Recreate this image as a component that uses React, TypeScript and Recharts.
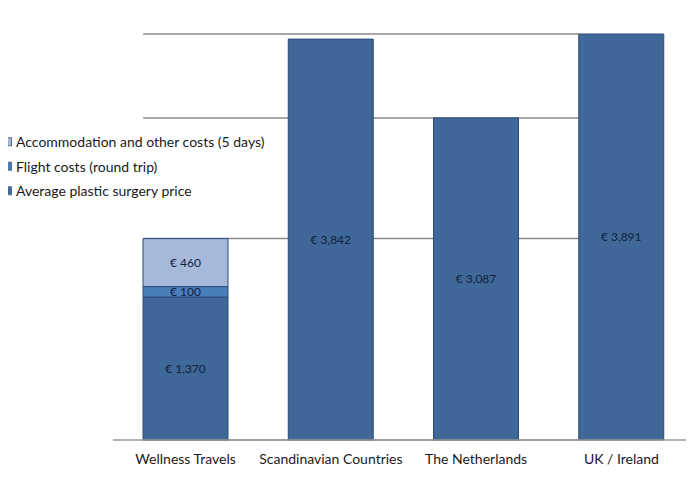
import React from 'react';
import { BarChart, Bar, XAxis, YAxis, CartesianGrid, LabelList } from 'recharts';

const categories = ['Wellness Travels', 'Scandinavian Countries', 'The Netherlands', 'UK / Ireland'];
const surgeryPrice = [1370, 3842, 3087, 3891];
const flightCosts: (number | null)[] = [100, null, null, null];
const accommodationCosts: (number | null)[] = [460, null, null, null];
const gridTicks = [1930, 3087, 3891];
const yMax = 3891;

const series = [
  { key: 'surgery', name: 'Average plastic surgery price', color: '#3f6898' },
  { key: 'flight', name: 'Flight costs (round trip)', color: '#4a7ebb' },
  { key: 'accommodation', name: 'Accommodation and other costs (5 days)', color: '#a7b9da' },
];

const data = categories.map((c, i) => ({
  name: c,
  surgery: surgeryPrice[i],
  flight: flightCosts[i],
  accommodation: accommodationCosts[i],
}));

const FONT = 'Lato, "Open Sans", sans-serif';
const BAR_SIZE = 85;
const N = categories.length;
const ROW = 24.5;

const fmt = (v: any) => (v == null || v === 0 ? '' : '€ ' + Number(v).toLocaleString('en-US'));

const gridLine = (p: any) => {
  const band = (p.x2 - p.x1) / N;
  const gap = (band - BAR_SIZE) / 2;
  return (
    <line
      key={`g-${p.index}`}
      x1={p.x1 + gap}
      x2={p.x2 - band + gap}
      y1={p.y1}
      y2={p.y2}
      stroke="#8a8a8a"
      strokeWidth={1.5}
    />
  );
};

const LegendBox = () => {
  const items = [...series].reverse();
  return (
    <svg
      width={300}
      height={ROW * items.length}
      style={{ position: 'absolute', left: -6, top: 122, overflow: 'visible' }}
    >
      {items.map((it, i) => (
        <g key={it.key} transform={`translate(0, ${i * ROW + ROW / 2})`}>
          <rect x={1.5} y={-4.5} width={8} height={8} fill={it.color} stroke="#5a6f8f" strokeWidth={1} />
          <text x={14} y={0} dy="0.35em" fontFamily={FONT} fontSize={14} fill="#1a1a1a">
            {it.name}
          </text>
        </g>
      ))}
    </svg>
  );
};

export default function App() {
  return (
    <div style={{ position: 'relative', width: 686, height: 471 }}>
      <BarChart
        width={686}
        height={471}
        data={data}
        margin={{ top: 26, right: 0, bottom: 9, left: 105 }}
        style={{ fontFamily: FONT }}
      >
        <CartesianGrid vertical={false} horizontal={gridLine} />
        <XAxis
          dataKey="name"
          axisLine={{ stroke: '#9a9a9a', strokeWidth: 1.5 }}
          tickLine={false}
          tick={{ fill: '#1a1a1a', fontSize: 14, fontFamily: FONT, dy: 6 }}
          height={30}
          interval={0}
        />
        <YAxis hide domain={[0, yMax]} ticks={gridTicks} />
        {series.map((s) => (
          <Bar
            key={s.key}
            dataKey={s.key}
            name={s.name}
            stackId="a"
            fill={s.color}
            stroke="#2b4c7a"
            strokeWidth={1}
            barSize={BAR_SIZE}
            isAnimationActive={false}
          >
            <LabelList dataKey={s.key} position="center" formatter={fmt} fill="#0f213d" fontSize={12} fontFamily={FONT} />
          </Bar>
        ))}
      </BarChart>
      <LegendBox />
    </div>
  );
}
